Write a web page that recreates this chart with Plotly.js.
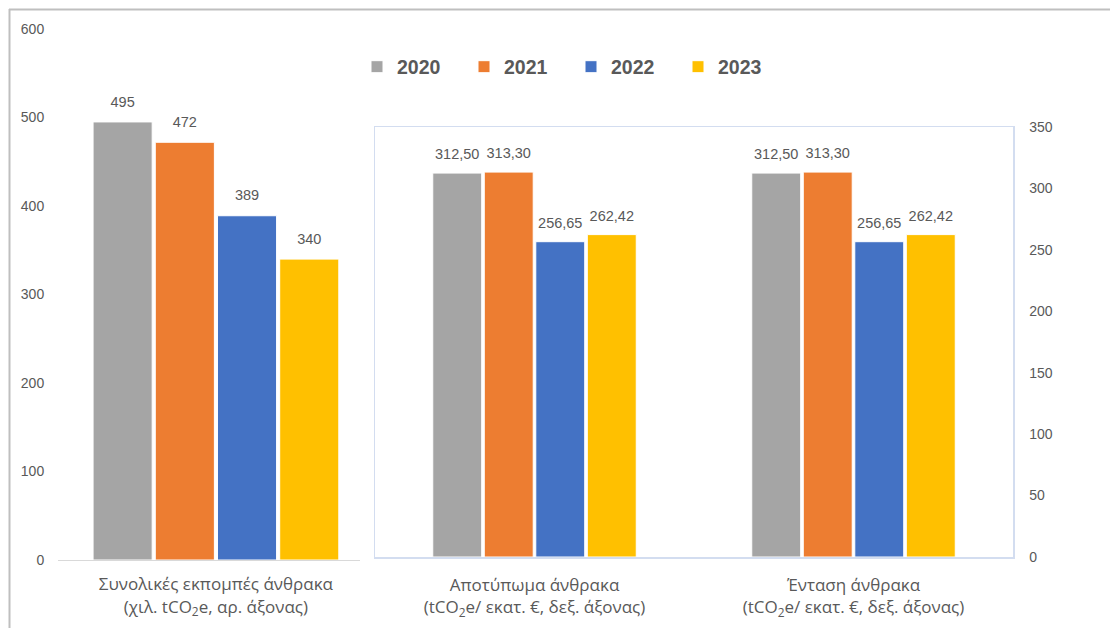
<!DOCTYPE html>
<html>
<head>
<meta charset="utf-8">
<script src="https://cdn.plot.ly/plotly-3.0.1.min.js"></script>
<style>html,body{margin:0;padding:0;background:#fff;}#chart{width:1110px;height:628px;}</style>
</head>
<body>
<div id="chart"></div>
<script>
// ---- data ----
const years = ['2020', '2021', '2022', '2023'];
const colors = ['#a5a5a5', '#ed7d31', '#4472c4', '#ffc000'];
const leftCategories = ['Συνολικές εκπομπές άνθρακα<br>(χιλ. tCO<sub>2</sub>e, αρ. άξονας)'];
const rightCategories = [
  'Αποτύπωμα άνθρακα<br>(tCO<sub>2</sub>e/ εκατ. €, δεξ. άξονας)',
  'Ένταση άνθρακα<br>(tCO<sub>2</sub>e/ εκατ. €, δεξ. άξονας)'
];
const totalEmissions = [495, 472, 389, 340];          // per year, left axis
const footprint = [312.50, 313.30, 256.65, 262.42];    // per year, right axis
const intensity = [312.50, 313.30, 256.65, 262.42];    // per year, right axis
const leftTicks = [0, 100, 200, 300, 400, 500, 600];
const rightTicks = [0, 50, 100, 150, 200, 250, 300, 350];

const W = 1110, H = 628;
const FONT = 'Liberation Sans, Arial, sans-serif';
const CATFONT = 'Open Sans, Liberation Sans, sans-serif';
const TXT = '#595959';
const fmt2 = v => v.toFixed(2).replace('.', ',');

const traces = [];
// bars
years.forEach((yr, i) => {
  traces.push({
    type: 'bar', name: yr, legendgroup: yr,
    x: leftCategories, y: [totalEmissions[i]],
    xaxis: 'x', yaxis: 'y', offsetgroup: 'L' + i,
    marker: {color: colors[i], line: {color: '#ffffff', width: 1}},
    hoverinfo: 'skip'
  });
});
years.forEach((yr, i) => {
  const vals = [footprint[i], intensity[i]];
  traces.push({
    type: 'bar', name: yr, legendgroup: yr, showlegend: false,
    x: rightCategories, y: vals,
    xaxis: 'x2', yaxis: 'y2', offsetgroup: 'R' + i,
    marker: {color: colors[i], line: {color: '#ffffff', width: 1}},
    hoverinfo: 'skip'
  });
});
// data labels (grouped scatter aligned with the bars)
years.forEach((yr, i) => {
  traces.push({
    type: 'scatter', mode: 'markers+text', showlegend: false,
    x: leftCategories, y: [totalEmissions[i]],
    xaxis: 'x', yaxis: 'y', offsetgroup: 'L' + i,
    marker: {size: 17, opacity: 0},
    text: [String(totalEmissions[i])], textposition: 'top center',
    textfont: {family: FONT, size: 14.5, color: TXT},
    cliponaxis: false, hoverinfo: 'skip'
  });
});
years.forEach((yr, i) => {
  const vals = [footprint[i], intensity[i]];
  traces.push({
    type: 'scatter', mode: 'markers+text', showlegend: false,
    x: rightCategories, y: vals,
    xaxis: 'x2', yaxis: 'y2', offsetgroup: 'R' + i,
    marker: {size: 15, opacity: 0},
    text: vals.map(fmt2), textposition: 'top center',
    textfont: {family: FONT, size: 14.5, color: TXT},
    cliponaxis: false, hoverinfo: 'skip'
  });
});

const px = v => v / W;
const py = v => (H - v) / H;

const layout = {
  width: W, height: H,
  margin: {l: 0, r: 0, t: 0, b: 0, pad: 0},
  paper_bgcolor: '#ffffff', plot_bgcolor: 'rgba(0,0,0,0)',
  font: {family: FONT, color: TXT},
  barmode: 'group', bargap: 0.354, bargroupgap: 0.05,
  scattermode: 'group', scattergap: 0.354,
  showlegend: true,
  legend: {
    orientation: 'h', x: px(357), y: py(67), xanchor: 'left', yanchor: 'middle',
    font: {family: FONT, size: 19.5, color: TXT, weight: 'bold'},
    entrywidth: 62, entrywidthmode: 'pixels', traceorder: 'normal',
    bgcolor: 'rgba(0,0,0,0)'
  },
  xaxis: {
    domain: [px(58), px(360)], anchor: 'y', range: [-0.410, 0.374],
    showline: true, linecolor: '#d9d9d9', linewidth: 1,
    ticks: 'outside', ticklen: 9, tickcolor: 'rgba(0,0,0,0)',
    tickfont: {family: CATFONT, size: 17, color: TXT},
    showgrid: false, zeroline: false, automargin: false, fixedrange: true
  },
  yaxis: {
    domain: [py(560), py(29)], anchor: 'x', range: [0, 600],
    tickvals: leftTicks, ticktext: leftTicks.map(String),
    ticks: 'outside', ticklen: 10, tickcolor: 'rgba(0,0,0,0)',
    tickfont: {family: FONT, size: 14, color: TXT},
    showgrid: false, zeroline: false, showline: false, automargin: false, fixedrange: true
  },
  xaxis2: {
    domain: [px(375), px(1013)], anchor: 'y2', range: [-0.5, 1.5],
    showline: true, mirror: true, linecolor: '#d3ddf0', linewidth: 1.5,
    ticks: 'outside', ticklen: 12, tickcolor: 'rgba(0,0,0,0)',
    tickfont: {family: CATFONT, size: 17, color: TXT},
    showgrid: false, zeroline: false, automargin: false, fixedrange: true
  },
  yaxis2: {
    domain: [py(557), py(127)], anchor: 'x2', side: 'right', range: [0, 350],
    tickvals: rightTicks, ticktext: rightTicks.map(String),
    showline: true, mirror: true, linecolor: '#d3ddf0', linewidth: 1.5,
    ticks: 'outside', ticklen: 12, tickcolor: 'rgba(0,0,0,0)',
    tickfont: {family: FONT, size: 14, color: TXT},
    showgrid: false, zeroline: false, automargin: false, fixedrange: true
  },
  shapes: [
    {type: 'line', xref: 'paper', yref: 'paper', x0: px(9), x1: 1, y0: py(9.5), y1: py(9.5),
     line: {color: '#bfbfbf', width: 2}},
    {type: 'line', xref: 'paper', yref: 'paper', x0: px(9.5), x1: px(9.5), y0: 0, y1: py(9),
     line: {color: '#bfbfbf', width: 2}}
  ]
};

Plotly.newPlot('chart', traces, layout, {displayModeBar: false, staticPlot: true});
</script>
</body>
</html>
